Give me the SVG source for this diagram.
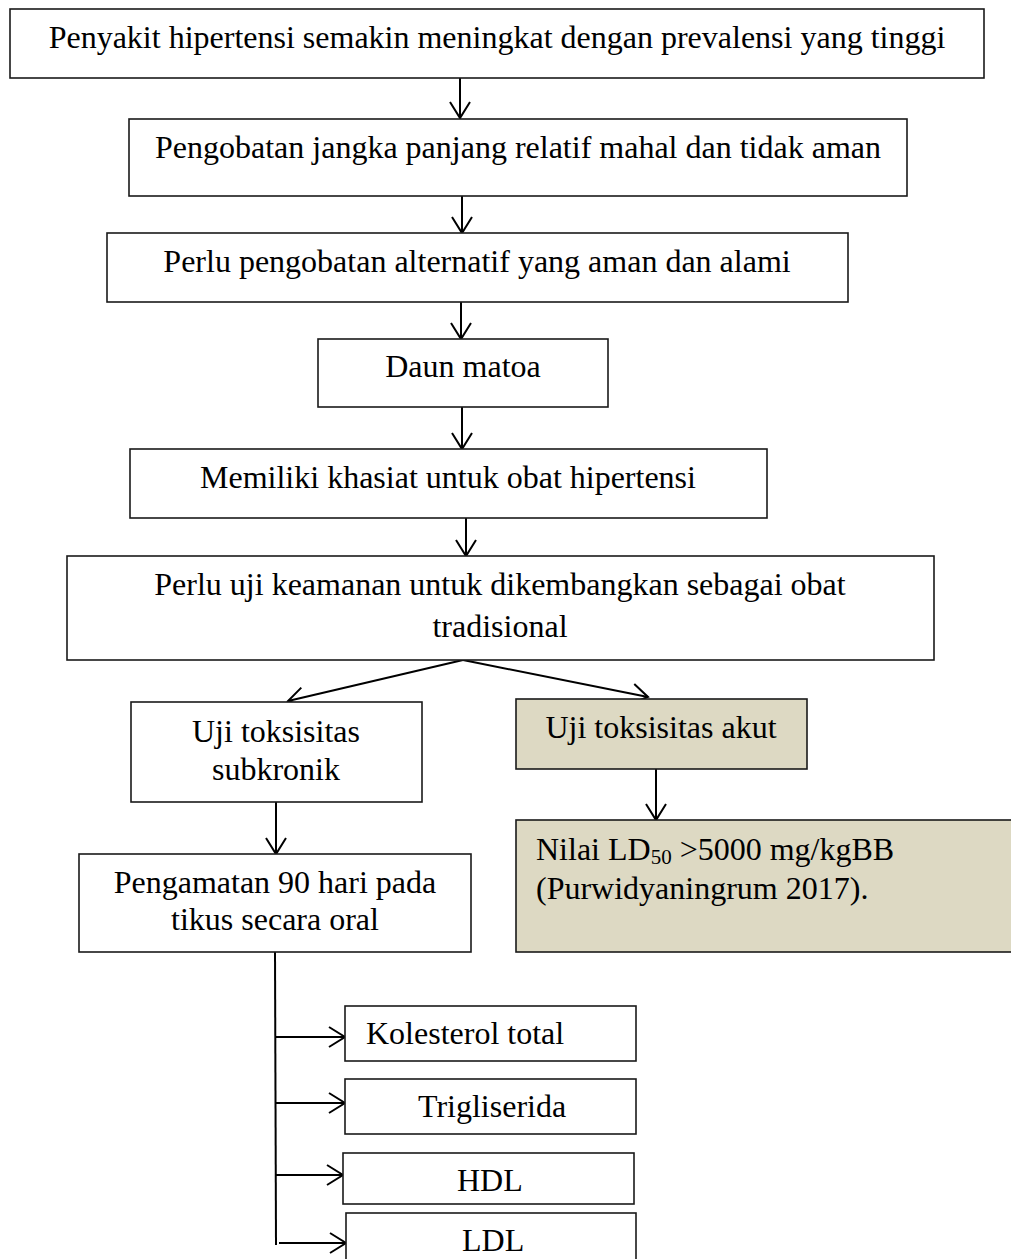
<svg xmlns="http://www.w3.org/2000/svg" width="1011" height="1259" viewBox="0 0 1011 1259">
<style>
.box{fill:#ffffff;stroke:#1a1a1a;stroke-width:1.6}
.tan{fill:#DDD9C3;stroke:#1a1a1a;stroke-width:1.6}
.t{font-family:"Liberation Serif","Times New Roman",serif;font-size:32px;fill:#000}
.c{text-anchor:middle}
.con{stroke:#000;stroke-width:2;fill:none;marker-end:url(#arr)}
.ln{stroke:#000;stroke-width:2;fill:none}
</style>
<defs>
<marker id="arr" viewBox="-17 -12 19 24" refX="0" refY="0" markerWidth="19" markerHeight="24" markerUnits="userSpaceOnUse" orient="auto" overflow="visible">
<path d="M-16,-10 L0,0 L-16,10" fill="none" stroke="#000" stroke-width="2"/>
</marker>
</defs>
<rect width="1011" height="1259" fill="#ffffff"/>

<g id="connectors">
<line class="con" x1="460" y1="78" x2="460" y2="118"/>
<line class="con" x1="462" y1="196" x2="462" y2="233"/>
<line class="con" x1="461" y1="302" x2="461" y2="339"/>
<line class="con" x1="462" y1="407" x2="462" y2="449"/>
<line class="con" x1="466" y1="518" x2="466" y2="556"/>
<line class="con" x1="463" y1="660" x2="288" y2="701"/>
<line class="con" x1="463" y1="660" x2="648" y2="697"/>
<line class="con" x1="276" y1="802" x2="276" y2="854"/>
<line class="con" x1="656" y1="769" x2="656" y2="820"/>
<line class="ln" x1="275" y1="952" x2="276" y2="1245"/>
<line class="con" x1="275" y1="1037" x2="345" y2="1037"/>
<line class="con" x1="275" y1="1103" x2="345" y2="1103"/>
<line class="con" x1="276" y1="1175" x2="343" y2="1175"/>
<line class="con" x1="279" y1="1243" x2="346" y2="1243"/>
</g>

<g id="n1">
<rect class="box" x="10" y="9" width="974" height="69"/>
<text class="t c" x="497" y="48">Penyakit hipertensi semakin meningkat dengan prevalensi yang tinggi</text>
</g>
<g id="n2">
<rect class="box" x="129" y="119" width="778" height="77"/>
<text class="t c" x="518" y="158">Pengobatan jangka panjang relatif mahal dan tidak aman</text>
</g>
<g id="n3">
<rect class="box" x="107" y="233" width="741" height="69"/>
<text class="t c" x="477" y="272">Perlu pengobatan alternatif yang aman dan alami</text>
</g>
<g id="n4">
<rect class="box" x="318" y="339" width="290" height="68"/>
<text class="t c" x="463" y="377">Daun matoa</text>
</g>
<g id="n5">
<rect class="box" x="130" y="449" width="637" height="69"/>
<text class="t c" x="448" y="488">Memiliki khasiat untuk obat hipertensi</text>
</g>
<g id="n6">
<rect class="box" x="67" y="556" width="867" height="104"/>
<text class="t c" x="500" y="595">Perlu uji keamanan untuk dikembangkan sebagai obat</text>
<text class="t c" x="500" y="637">tradisional</text>
</g>
<g id="n7">
<rect class="box" x="131" y="702" width="291" height="100"/>
<text class="t c" x="276" y="742">Uji toksisitas</text>
<text class="t c" x="276" y="780">subkronik</text>
</g>
<g id="n8">
<rect class="tan" x="516" y="699" width="291" height="70"/>
<text class="t c" x="661" y="738">Uji toksisitas akut</text>
</g>
<g id="n9">
<rect class="tan" x="516" y="820" width="510" height="132"/>
<text class="t" x="536" y="860">Nilai LD<tspan font-size="21" dy="4">50</tspan><tspan dy="-4"> &gt;5000 mg/kgBB</tspan></text>
<text class="t" x="536" y="899">(Purwidyaningrum 2017).</text>
</g>
<g id="n10">
<rect class="box" x="79" y="854" width="392" height="98"/>
<text class="t c" x="275" y="893">Pengamatan 90 hari pada</text>
<text class="t c" x="275" y="930">tikus secara oral</text>
</g>
<g id="n11">
<rect class="box" x="345" y="1006" width="291" height="55"/>
<text class="t" x="366" y="1044">Kolesterol total</text>
</g>
<g id="n12">
<rect class="box" x="345" y="1079" width="291" height="55"/>
<text class="t" x="418" y="1117">Trigliserida</text>
</g>
<g id="n13">
<rect class="box" x="343" y="1153" width="291" height="51"/>
<text class="t" x="457" y="1191">HDL</text>
</g>
<g id="n14">
<rect class="box" x="346" y="1213" width="290" height="60"/>
<text class="t" x="462" y="1251">LDL</text>
</g>
</svg>
